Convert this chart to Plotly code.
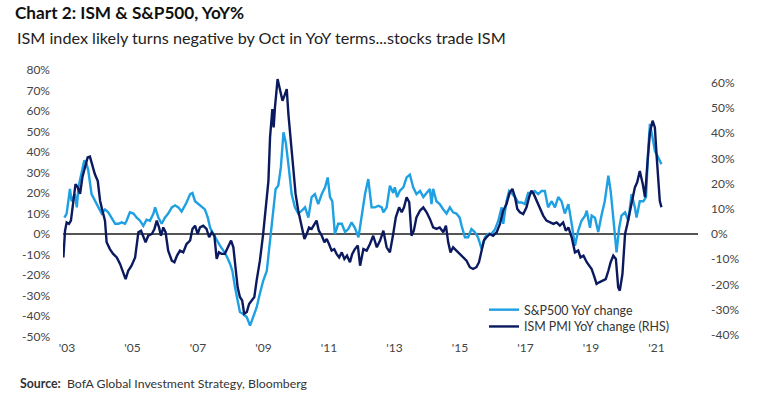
import plotly.graph_objects as go

# ---------------- data ----------------
sp_x = [2002.92, 2002.99, 2003.09, 2003.14, 2003.24, 2003.30, 2003.35, 2003.45, 2003.53, 2003.60,
        2003.65, 2003.75, 2003.85, 2003.91, 2003.96, 2004.06, 2004.16, 2004.26, 2004.36, 2004.47,
        2004.57, 2004.67, 2004.77, 2004.82, 2004.92, 2005.03, 2005.13, 2005.23, 2005.33, 2005.43,
        2005.53, 2005.64, 2005.69, 2005.79, 2005.89, 2005.99, 2006.09, 2006.20, 2006.30, 2006.40,
        2006.50, 2006.65, 2006.76, 2006.83, 2006.91, 2007.01, 2007.11, 2007.21, 2007.30, 2007.37,
        2007.47, 2007.57, 2007.67, 2007.77, 2007.88, 2007.98, 2008.05, 2008.13, 2008.21, 2008.28,
        2008.38, 2008.49, 2008.59, 2008.69, 2008.79, 2008.89, 2008.99, 2009.10, 2009.20, 2009.30,
        2009.37, 2009.45, 2009.53, 2009.61, 2009.68, 2009.76, 2009.86, 2009.96, 2010.06, 2010.17,
        2010.27, 2010.37, 2010.47, 2010.57, 2010.67, 2010.78, 2010.88, 2010.96, 2011.03, 2011.10,
        2011.18, 2011.28, 2011.39, 2011.49, 2011.59, 2011.69, 2011.79, 2011.90, 2012.00, 2012.10,
        2012.20, 2012.30, 2012.40, 2012.51, 2012.61, 2012.66, 2012.76, 2012.86, 2012.96, 2013.01,
        2013.08, 2013.16, 2013.27, 2013.37, 2013.47, 2013.57, 2013.67, 2013.78, 2013.88, 2013.98,
        2014.08, 2014.13, 2014.18, 2014.28, 2014.38, 2014.49, 2014.59, 2014.69, 2014.79, 2014.89,
        2014.99, 2015.05, 2015.15, 2015.25, 2015.35, 2015.45, 2015.55, 2015.66, 2015.76, 2015.86,
        2015.96, 2016.07, 2016.17, 2016.27, 2016.32, 2016.42, 2016.50, 2016.57, 2016.68, 2016.78,
        2016.88, 2016.98, 2017.08, 2017.18, 2017.28, 2017.39, 2017.49, 2017.59, 2017.69, 2017.80,
        2017.90, 2018.00, 2018.10, 2018.20, 2018.31, 2018.41, 2018.51, 2018.61, 2018.71, 2018.82,
        2018.87, 2018.97, 2019.02, 2019.12, 2019.22, 2019.32, 2019.42, 2019.53, 2019.60, 2019.68,
        2019.78, 2019.86, 2019.93, 2020.04, 2020.14, 2020.24, 2020.34, 2020.39, 2020.49, 2020.60,
        2020.68, 2020.75, 2020.80, 2020.88, 2020.95, 2021.05, 2021.15]
sp_y = [8, 10, 22, 16, 19.5, 13, 23, 31, 36, 34,
        31, 19.5, 16, 14.6, 13, 10, 12, 10.6, 8, 5,
        5, 5.7, 5, 6.5, 10.6, 10, 8, 6.5, 4, 7,
        6.5, 10, 13, 8, 5, 8, 10, 13, 14, 13,
        11, 15.4, 19.5, 20, 16, 14.6, 13, 12, 8, 3,
        0, -3, -5.7, -8, -11, -14.6, -18, -26, -32.5, -38,
        -39, -40.6, -44.7, -40.6, -35.8, -29, -22.8, -18, -3, 11,
        22, 23.6, 32.5, 49.6, 44.7, 34, 19.5, 13, 10, 11.4,
        13, 8, 18, 19.5, 14.6, 19.5, 22.8, 27.6, 18, 16,
        0, 5, 5, 1, 2.4, 5.7, 3, -1.6, 8, 19.5,
        26.8, 13, 13, 13.8, 13, 10.6, 13, 23.6, 20, 22.8,
        18, 21, 22.8, 27.6, 29, 22.8, 19.5, 21, 18, 20,
        22, 14.6, 22, 16, 14.6, 12, 10, 13, 10.6, 10,
        8, 4, -1.6, -1.6, 2.4, 1, -1.6, -7.3, -1.6, 0,
        0, 2.4, 6.5, 13, 5, 16, 21, 20, 18, 15.4,
        15.4, 14.6, 20, 20, 21, 19.5, 21, 21, 13, 16,
        13, 18, 16, 10, 14.6, 5, -5.7, 1.6, 6.5, 9,
        11.4, 3, 9, 8, 1, 9, 16, 28.5, 21, 8,
        -9, 3, 9, 10.6, 6.5, 19.5, 13, 8, 16, 16,
        18, 42, 53.7, 47, 40.6, 37.4, 34]

ism_x = [2002.89, 2002.94, 2002.99, 2003.06, 2003.12, 2003.19, 2003.26, 2003.33, 2003.40, 2003.47,
         2003.55, 2003.63, 2003.70, 2003.77, 2003.85, 2003.94, 2004.01, 2004.08, 2004.16, 2004.21,
         2004.31, 2004.41, 2004.52, 2004.62, 2004.72, 2004.79, 2004.87, 2004.97, 2005.08, 2005.13,
         2005.18, 2005.26, 2005.33, 2005.40, 2005.48, 2005.59, 2005.67, 2005.74, 2005.81, 2005.87,
         2005.94, 2006.01, 2006.09, 2006.20, 2006.28, 2006.36, 2006.45, 2006.55, 2006.65, 2006.76,
         2006.83, 2006.91, 2006.99, 2007.06, 2007.16, 2007.26, 2007.34, 2007.42, 2007.50, 2007.57,
         2007.64, 2007.72, 2007.82, 2007.93, 2008.01, 2008.08, 2008.15, 2008.21, 2008.28, 2008.35,
         2008.41, 2008.49, 2008.56, 2008.64, 2008.72, 2008.79, 2008.89, 2008.99, 2009.07, 2009.15,
         2009.20, 2009.27, 2009.31, 2009.35, 2009.43, 2009.50, 2009.58, 2009.64, 2009.71, 2009.76,
         2009.84, 2009.91, 2009.98, 2010.06, 2010.17, 2010.25, 2010.32, 2010.39, 2010.47, 2010.55,
         2010.62, 2010.69, 2010.78, 2010.86, 2010.93, 2011.00, 2011.08, 2011.16, 2011.23, 2011.31,
         2011.39, 2011.47, 2011.55, 2011.64, 2011.71, 2011.79, 2011.88, 2011.95, 2012.05, 2012.15,
         2012.25, 2012.35, 2012.46, 2012.56, 2012.66, 2012.76, 2012.86, 2012.96, 2013.04, 2013.14,
         2013.22, 2013.29, 2013.37, 2013.45, 2013.52, 2013.59, 2013.67, 2013.78, 2013.88, 2013.98,
         2014.08, 2014.18, 2014.28, 2014.38, 2014.49, 2014.57, 2014.64, 2014.71, 2014.79, 2014.89,
         2014.99, 2015.10, 2015.20, 2015.30, 2015.40, 2015.50, 2015.58, 2015.66, 2015.73, 2015.81,
         2015.91, 2016.01, 2016.12, 2016.22, 2016.32, 2016.42, 2016.52, 2016.60, 2016.68, 2016.75,
         2016.83, 2016.93, 2017.03, 2017.11, 2017.18, 2017.25, 2017.34, 2017.44, 2017.54, 2017.64,
         2017.75, 2017.85, 2017.95, 2018.05, 2018.15, 2018.23, 2018.31, 2018.41, 2018.51, 2018.61,
         2018.68, 2018.77, 2018.87, 2018.95, 2019.02, 2019.09, 2019.17, 2019.25, 2019.35, 2019.45,
         2019.53, 2019.60, 2019.68, 2019.76, 2019.83, 2019.88, 2019.96, 2020.04, 2020.11, 2020.19,
         2020.27, 2020.34, 2020.41, 2020.49, 2020.58, 2020.65, 2020.72, 2020.80, 2020.88, 2020.95,
         2021.00, 2021.05, 2021.10, 2021.15]
ism_y = [-9.3, 1.3, 4.6, 4.0, 5.3, 13.2, 19.8, 18.5, 15.9, 22.5,
         26.5, 30.4, 30.7, 27, 23.8, 21, 13.2, 9.3, 5.3, -3.3,
         -6, -7.9, -9.3, -11.9, -15.2, -17.9, -14.6, -12.6, -9.3, -3.3,
         0.7, 1.3, -1.3, -3.3, -0.7, 0, 2, 5.3, 2.6, -0.7,
         2.6, 0.7, -6.6, -10.6, -11.2, -8.6, -6.6, -7.3, -4, -2.6,
         2, 3.3, 0, 2.6, 3.3, 2, -1.3, 0.7, -0.7, -9.9,
         -7.3, -7.9, -7.9, -4.6, -2.6, -5.3, -13.2, -21.2, -25, -26.5,
         -31.7, -31, -27.8, -26.5, -25, -18.5, -10.6, 0, 9.3, 21,
         38.4, 49.6, 42.3, 50.3, 61.5, 56.9, 52.9, 54.9, 57.5, 47.6,
         35.7, 25, 15.9, 9.3, 2.6, -2, 0, 2.6, 2, 4,
         5.3, 1.3, -0.7, -3.3, -2, -4, -6.6, -6, -7.9, -9.3,
         -7.3, -9.9, -8.6, -11.2, -7.9, -6, -4.6, -12.6, -6, -6.6,
         -4, -0.7, -5.3, -2.6, 1.3, -5.3, -7.3, 0, 6.6, 10.6,
         8.6, 10.6, 14.6, 12.6, -0.7, 1.3, 6.6, 9.3, 10.6, 8.6,
         6, 2.6, 2, 2.6, 0.7, 3.3, -3.3, -7.3, -5.3, -6.6,
         -7.9, -9.3, -10.6, -13.2, -13.9, -13.2, -11.2, -6.6, -2.6, -1.3,
         0, -0.7, 0.7, 4, 9.3, 11.9, 16.5, 17.9, 14.6, 9.9,
         8.6, 7.9, 10.6, 14.6, 17.2, 15.9, 13.2, 9.9, 7.3, 5.3,
         4.6, 4, 4.6, 3.3, 4.6, 1.3, 2.6, -1.3, -7.3, -6.6,
         -9.3, -8.6, -11.2, -12.6, -13.9, -16.5, -19.8, -19.2, -18.5, -17.9,
         -14.6, -11.2, -8.6, -9.9, -21.2, -22.5, -15.9, 0, 4, 9.3,
         14.6, 18.5, 20.5, 25, 19.8, 14.6, 27.8, 40.3, 45, 42.3,
         31.7, 19.8, 13.2, 10.6]

tick_years = [2003, 2005, 2007, 2009, 2011, 2013, 2015, 2017, 2019, 2021]
tick_labels = ["'03", "'05", "'07", "'09", "'11", "'13", "'15", "'17", "'19", "'21"]
left_ticks = [80, 70, 60, 50, 40, 30, 20, 10, 0, -10, -20, -30, -40, -50]
right_ticks = [60, 50, 40, 30, 20, 10, 0, -10, -20, -30, -40]

SP_COLOR = "#1ea0e2"
ISM_COLOR = "#0b1a5e"
FONT = "Lato"

W, H = 761, 398

fig = go.Figure()
fig.add_trace(go.Scatter(x=sp_x, y=sp_y, mode="lines", name="S&P500 YoY change",
                         line=dict(color=SP_COLOR, width=2.4), yaxis="y", legend="legend"))
fig.add_trace(go.Scatter(x=ism_x, y=ism_y, mode="lines", name="ISM PMI YoY change (RHS)",
                         line=dict(color=ISM_COLOR, width=2.4), yaxis="y2", legend="legend2"))

tick_font = dict(family=FONT, size=12, color="#444444")
legend_font = dict(family=FONT, size=12.4, color="#333333")

fig.update_layout(
    width=W, height=H,
    margin=dict(l=63, r=63, t=68, b=59),
    paper_bgcolor="white", plot_bgcolor="white",
    showlegend=True,
    legend=dict(x=0.663, y=0.162, xanchor="left", yanchor="top", font=legend_font,
                bgcolor="rgba(0,0,0,0)", itemwidth=30),
    legend2=dict(x=0.663, y=0.100, xanchor="left", yanchor="top", font=legend_font,
                 bgcolor="rgba(0,0,0,0)", itemwidth=30),
    title=dict(text="<b>Chart 2: ISM &amp; S&amp;P500, YoY%</b>", x=15 / W, xanchor="left",
               xref="container", yref="container", y=1 - 13 / H, yanchor="middle",
               font=dict(family=FONT, size=17.2, color="#111111")),
    xaxis=dict(range=[2002.878, 2022.267], tickmode="array", tickvals=tick_years,
               ticktext=tick_labels, showgrid=False, zeroline=False, showline=False,
               ticks="", tickfont=tick_font),
    yaxis=dict(range=[-51.2, 80.98], tickmode="array", tickvals=left_ticks,
               ticktext=[f"{v}%" for v in left_ticks], showgrid=False,
               zeroline=True, zerolinecolor="#555555", zerolinewidth=1.5,
               showline=False, ticks="", ticklabelstandoff=12, tickfont=tick_font),
    yaxis2=dict(range=[-41.7, 65.9], overlaying="y", side="right", tickmode="array",
                tickvals=right_ticks, ticktext=[f"{v}%" for v in right_ticks],
                showgrid=False, zeroline=False, showline=False, ticks="",
                ticklabelstandoff=12, tickfont=tick_font),
    annotations=[
        dict(text="ISM index likely turns negative by Oct in YoY terms...stocks trade ISM",
             xref="paper", yref="paper", x=(15 - 63) / 635, y=(339 - 38) / 271,
             xanchor="left", yanchor="middle", showarrow=False,
             font=dict(family=FONT, size=16.2, color="#222222")),
        dict(text="<b>Source:</b>  BofA Global Investment Strategy, Bloomberg",
             xref="paper", yref="paper", x=(18 - 63) / 635, y=(339 - 383) / 271,
             xanchor="left", yanchor="middle", showarrow=False,
             font=dict(family=FONT, size=12.3, color="#333333")),
    ],
)

# remove the default 8px page margin so the figure sits at the window's top-left
fig.write_html("out.html", config={"displayModeBar": False},
               post_script="document.body.style.margin='0';")
